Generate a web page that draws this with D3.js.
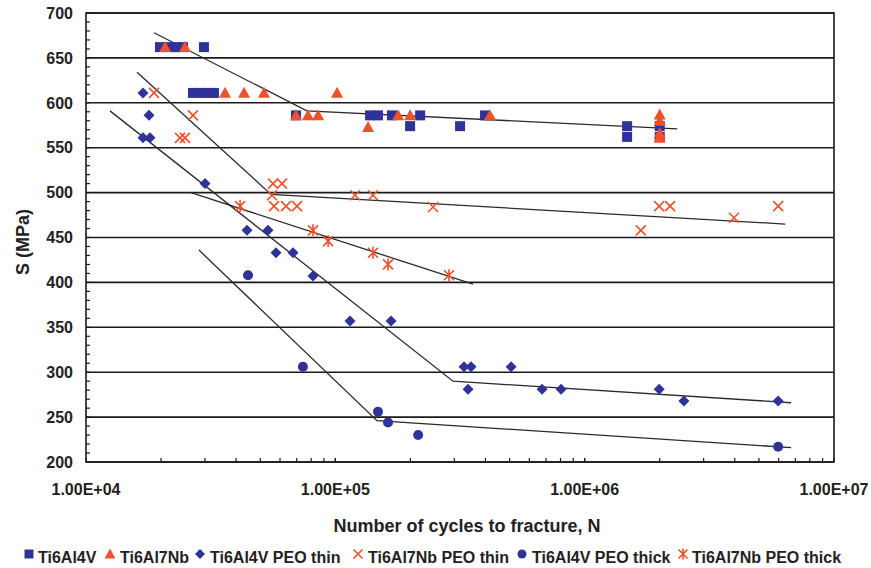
<!DOCTYPE html>
<html>
<head>
<meta charset="utf-8">
<script src="https://cdn.jsdelivr.net/npm/d3@7"></script>
<style>
  html, body { margin: 0; padding: 0; background: #fff; }
  svg text { font-family: "Liberation Sans", Arial, sans-serif; font-weight: bold; fill: #222; }
</style>
</head>
<body>
<div id="chart"></div>
<script>
// S-N data, [cycles N, stress S in MPa]
const ti6al4v = [
  [19800, 662], [21330, 662], [22960, 662], [24490, 662], [29720, 662],
  [26850, 611], [28650, 611], [30560, 611], [32600, 611],
  [69510, 586], [137800, 586], [148300, 586], [168800, 586], [218900, 586], [398500, 586],
  [199500, 574], [316400, 574], [1480000, 574], [2000000, 574],
  [1480000, 562], [2000000, 562]
];
const ti6al7nb = [
  [20750, 662], [24940, 662],
  [36110, 611], [43060, 611], [51780, 611], [101600, 611],
  [69510, 586], [77680, 586], [85300, 586], [178600, 586], [199500, 586], [417000, 586],
  [135300, 573],
  [2000000, 587], [2000000, 580], [2000000, 566], [2000000, 561]
];
const ti64PeoThin = [
  [16930, 611], [17890, 586], [16930, 561], [18060, 561], [30020, 510],
  [44230, 458], [53700, 458], [57810, 433], [67640, 433], [81380, 407],
  [114500, 357], [167300, 357], [328200, 306], [350200, 306], [506900, 306],
  [340600, 281], [674600, 281], [804200, 281], [1990000, 281],
  [2500000, 268], [5970000, 268]
];
const ti67PeoThin = [
  [18740, 611], [26850, 586], [23830, 561], [24940, 561],
  [56260, 510], [61100, 510], [55710, 497],
  [56780, 485], [63420, 485], [70180, 485],
  [120000, 497], [141600, 497], [246600, 484],
  [1680000, 458], [1990000, 485], [2200000, 485], [3970000, 472], [5970000, 485]
];
const ti64PeoThick = [
  [44650, 408], [74130, 306], [148300, 256], [162700, 244], [214800, 230], [5970000, 217]
];
const ti67PeoThick = [
  [41500, 485], [81380, 458], [93540, 446], [141600, 433], [162700, 420], [285700, 408]
];

// trend lines (start, knee, end)
const trendTi = [[18740, 678], [76900, 591], [2350000, 571]];
const trendNbThin = [[16020, 634], [55200, 498], [6370000, 465]];
const trendNbThick = [[26370, 500], [356500, 398]];
const trendPeoThin = [[12480, 591], [296500, 290], [6730000, 266]];
const trendPeoThick = [[28380, 436], [146900, 246], [6730000, 216]];

const seriesNames = ["Ti6Al4V", "Ti6Al7Nb", "Ti6Al4V PEO thin", "Ti6Al7Nb PEO thin", "Ti6Al4V PEO thick", "Ti6Al7Nb PEO thick"];
const yTicks = [200, 250, 300, 350, 400, 450, 500, 550, 600, 650, 700];
const xTickLabels = ["1.00E+04", "1.00E+05", "1.00E+06", "1.00E+07"];

const BLUE = "#30329a";
const RED = "#f0502a";

const W = 871, H = 568;
const plot = { left: 86, right: 834, top: 13, bottom: 462 };

const svg = d3.select("#chart").append("svg")
  .attr("width", W)
  .attr("height", H);

const x = d3.scaleLog().domain([1e4, 1e7]).range([plot.left, plot.right]);
const y = d3.scaleLinear().domain([200, 700]).range([plot.bottom, plot.top]);

// horizontal gridlines
svg.append("g")
  .selectAll("line")
  .data(yTicks)
  .enter()
  .append("line")
  .attr("x1", plot.left)
  .attr("x2", plot.right)
  .attr("y1", d => y(d))
  .attr("y2", d => y(d))
  .attr("stroke", "#1a1a1a")
  .attr("stroke-width", 1.6);

// frame
svg.append("rect")
  .attr("x", plot.left)
  .attr("y", plot.top)
  .attr("width", plot.right - plot.left)
  .attr("height", plot.bottom - plot.top)
  .attr("fill", "none")
  .attr("stroke", "#1a1a1a")
  .attr("stroke-width", 1.6);

// y minor ticks (inside)
const yMinor = d3.range(200, 701, 10);
svg.append("g")
  .selectAll("line")
  .data(yMinor)
  .enter()
  .append("line")
  .attr("x1", plot.left)
  .attr("x2", plot.left + 4)
  .attr("y1", d => y(d))
  .attr("y2", d => y(d))
  .attr("stroke", "#1a1a1a")
  .attr("stroke-width", 1.2);

// x minor ticks (inside)
const xMinor = [];
[1e4, 1e5, 1e6].forEach(dec => { for (let k = 1; k <= 10; k++) xMinor.push(dec * k); });
svg.append("g")
  .selectAll("line")
  .data(xMinor)
  .enter()
  .append("line")
  .attr("x1", d => x(d))
  .attr("x2", d => x(d))
  .attr("y1", plot.bottom)
  .attr("y2", plot.bottom - 4)
  .attr("stroke", "#1a1a1a")
  .attr("stroke-width", 1.2);

// tick labels
svg.append("g")
  .selectAll("text")
  .data(yTicks)
  .enter()
  .append("text")
  .attr("x", 73)
  .attr("y", d => y(d))
  .attr("dy", "0.36em")
  .attr("text-anchor", "end")
  .style("font-size", "16px")
  .text(d => d);

svg.append("g")
  .selectAll("text")
  .data(xTickLabels)
  .enter()
  .append("text")
  .attr("x", (d, i) => x(Math.pow(10, 4 + i)))
  .attr("y", 495)
  .attr("text-anchor", "middle")
  .style("font-size", "16px")
  .text(d => d);

// axis titles
svg.append("text")
  .attr("x", 467)
  .attr("y", 532)
  .attr("text-anchor", "middle")
  .style("font-size", "18px")
  .text("Number of cycles to fracture, N");

svg.append("text")
  .attr("transform", `translate(29, ${242}) rotate(-90)`)
  .attr("text-anchor", "middle")
  .style("font-size", "18px")
  .text("S (MPa)");

// trend lines
const line = d3.line().x(d => x(d[0])).y(d => y(d[1]));
svg.append("g")
  .selectAll("path")
  .data([trendTi, trendNbThin, trendNbThick, trendPeoThin, trendPeoThick])
  .enter()
  .append("path")
  .attr("d", line)
  .attr("fill", "none")
  .attr("stroke", "#2a2a2a")
  .attr("stroke-width", 1.3);

// marker shapes
const shapes = {
  square: s => `M${-s / 2},${-s / 2}h${s}v${s}h${-s}Z`,
  triangle: s => `M0,${-s * 0.55}L${s * 0.55},${s * 0.45}L${-s * 0.55},${s * 0.45}Z`,
  diamond: s => `M0,${-s / 2}L${s / 2},0L0,${s / 2}L${-s / 2},0Z`,
  circle: s => d3.symbol(d3.symbolCircle, Math.PI * (s / 2) * (s / 2))(),
  times: s => `M${-s / 2},${-s / 2}L${s / 2},${s / 2}M${-s / 2},${s / 2}L${s / 2},${-s / 2}`,
  star: s => `M${-s / 2},${-s / 2}L${s / 2},${s / 2}M${-s / 2},${s / 2}L${s / 2},${-s / 2}M0,${-s * 0.6}L0,${s * 0.6}`
};

const series = [
  { data: ti6al4v, shape: "square", color: BLUE, size: 10, stroke: false },
  { data: ti6al7nb, shape: "triangle", color: RED, size: 11, stroke: false },
  { data: ti64PeoThin, shape: "diamond", color: BLUE, size: 11, stroke: false },
  { data: ti67PeoThin, shape: "times", color: RED, size: 10, stroke: true },
  { data: ti64PeoThick, shape: "circle", color: BLUE, size: 10, stroke: false },
  { data: ti67PeoThick, shape: "star", color: RED, size: 10, stroke: true }
];

function styleMark(sel, s) {
  if (s.stroke) {
    sel.attr("fill", "none").attr("stroke", s.color).attr("stroke-width", 1.6);
  } else {
    sel.attr("fill", s.color).attr("stroke", "none");
  }
}

series.forEach(s => {
  const pts = svg.append("g")
    .selectAll("path")
    .data(s.data)
    .enter()
    .append("path")
    .attr("transform", d => `translate(${x(d[0])},${y(d[1])})`)
    .attr("d", shapes[s.shape](s.size));
  styleMark(pts, s);
});

// legend
const legendMarkX = [29, 110, 200, 358, 522, 683];
const legendTextX = [38, 120, 210, 368, 532, 692];
const legend = svg.append("g");
series.forEach((s, i) => {
  const m = legend.append("path")
    .attr("transform", `translate(${legendMarkX[i]}, 554)`)
    .attr("d", shapes[s.shape](s.size - 1));
  styleMark(m, s);
  legend.append("text")
    .attr("x", legendTextX[i])
    .attr("y", 563)
    .style("font-size", "16px")
    .text(seriesNames[i]);
});
</script>
</body>
</html>
